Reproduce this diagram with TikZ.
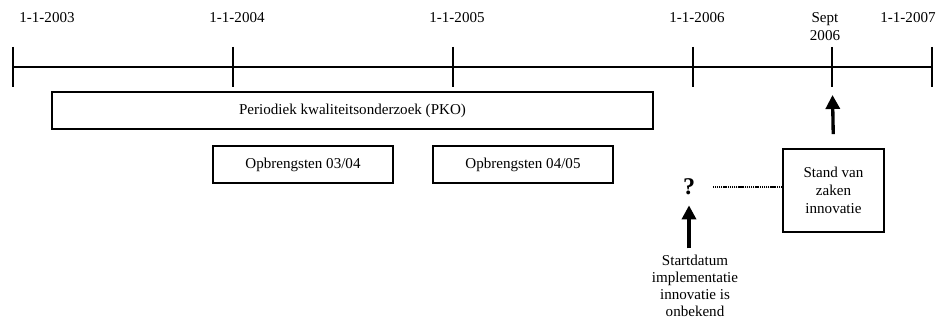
\documentclass[tikz,border=0pt]{standalone}
\usepackage{fontspec}
\setmainfont{Liberation Serif}
\usetikzlibrary{arrows.meta}

\begin{document}
\begin{tikzpicture}[x=0.75pt, y=-0.75pt,
      every node/.style={font=\fontsize{11.3}{13.5}\selectfont},
      as/.style={line width=1.1pt},
      datum/.style={inner sep=0pt, align=center},
      balk/.style={draw, line width=1.2pt, minimum height=27.75pt, inner sep=0pt},
      pijl/.style={line width=2.5pt, -{Triangle[width=10.5pt, length=10.5pt]}},
      stip/.style={line width=2pt, dash pattern=on 1pt off 0.6pt}]
   \useasboundingbox (0,0) rectangle (936,321);
   \coordinate (t03) at (13,67);
   \coordinate (t04) at (233,67);
   \coordinate (t05) at (453,67);
   \coordinate (t06) at (693,67);
   \coordinate (ts) at (832,67);
   \coordinate (t07) at (932,67);
   \draw[as] (t03) -- (t07);
   \foreach \t in {t03,t04,t05,t06,ts,t07}
      \draw[as] (\t) ++(0,-20) -- ++(0,40);
   \node[datum] (l03) at (47,18) {1-1-2003};
   \node[datum] (l04) at (237,18) {1-1-2004};
   \node[datum] (l05) at (457,18) {1-1-2005};
   \node[datum] (l06) at (697,18) {1-1-2006};
   \node[datum] (ls) at (825,27) {Sept\\2006};
   \node[datum] (l07) at (908,18) {1-1-2007};

   \node[balk, minimum width=450.75pt] (pko) at (352.5,110.5) {Periodiek kwaliteitsonderzoek (PKO)};
   \node[balk, minimum width=135pt] (opb1) at (303,164.5) {Opbrengsten 03/04};
   \node[balk, minimum width=135pt] (opb2) at (523,164.5) {Opbrengsten 04/05};
   \node[balk, minimum width=75.75pt, minimum height=62.25pt, align=center] (stand) at (833.5,190.5)
      {Stand van\\zaken\\innovatie};

   \node[inner sep=0pt, font=\fontsize{18}{20}\selectfont\bfseries] (vraag) at (689,187) {?};
   \node[datum, anchor=north, font=\fontsize{11.3}{12.8}\selectfont] (start) at (695,255)
      {Startdatum\\implementatie\\innovatie is\\onbekend};

   \draw[pijl, shorten <=10.5pt, shorten >=21pt] (stand.north) -- (ts);
   \draw[pijl, shorten <=5pt, shorten >=7.5pt] (vraag |- start.north) -- (vraag.south);
   \draw[stip, shorten >=12.5pt] (stand.west |- vraag.east) -- (vraag.east);
\end{tikzpicture}
\end{document}
